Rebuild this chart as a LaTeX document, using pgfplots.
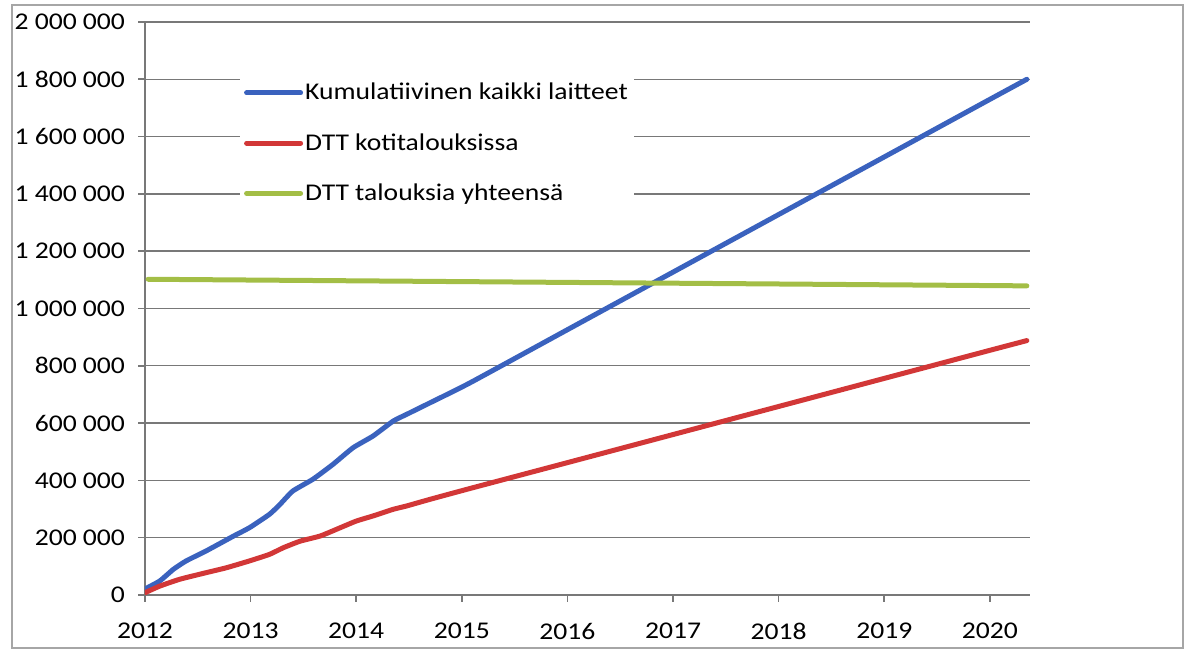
\documentclass[border=0pt]{standalone}
\usepackage{pgfplots}
\pgfplotsset{compat=1.18}
\usepackage{fontspec}
\setmainfont{Carlito}[FakeStretch=1.15]
\definecolor{cblue}{RGB}{58,98,190}
\definecolor{cred}{RGB}{210,55,55}
\definecolor{cgreen}{RGB}{163,190,70}
\definecolor{cgrid}{RGB}{120,120,120}
\begin{document}
\begin{tikzpicture}
\path[use as bounding box] (0,0) rectangle (595.5pt,326pt);
\draw[gray!70, line width=0.8pt] (6pt,2pt) rectangle (591.5pt,323.5pt);
\begin{axis}[
  at={(72.5pt,28.5pt)}, anchor=south west,
  scale only axis, width=442.5pt, height=286.5pt,
  xmin=2012, xmax=2020.38, ymin=0, ymax=2000000,
  axis x line*=bottom, axis y line*=left,
  axis line style={cgrid, line width=0.8pt, -},
  scaled y ticks=false, scaled x ticks=false,
  xtick={2012,2013,2014,2015,2016,2017,2018,2019,2020},
  xticklabels={2012,2013,2014,2015,2016,2017,2018,2019,2020},
  ytick={0,200000,400000,600000,800000,1000000,1200000,1400000,1600000,1800000,2000000},
  yticklabels={0,200 000,400 000,600 000,800 000,1 000 000,1 200 000,1 400 000,1 600 000,1 800 000,2 000 000},
  tick align=outside, major tick length=3.5pt,
  tick style={cgrid, line width=0.8pt},
  ymajorgrids, major grid style={cgrid, line width=0.7pt},
  /pgf/number format/assume math mode=true,
  ticklabel style={font=\fontsize{12}{14.4}\selectfont, text=black},
  yticklabel style={xshift=-3pt},
  xticklabel style={yshift=-7pt},
  legend style={at={(rel axis cs:0.107,0.922)}, anchor=north west,
    fill=white, draw=none, font=\fontsize{12}{14.4}\selectfont,
    row sep=11.3pt, inner xsep=2pt, inner ysep=6pt,
    nodes={inner xsep=1pt}},
  legend cell align=left,
  legend image code/.code={\draw[#1] (0pt,0pt) -- (27pt,0pt);},
  every axis plot/.append style={line width=2.5pt, line join=round, line cap=round},
]
\addplot[cblue, smooth, tension=0.3] coordinates {
(2012.00,21000) (2012.14,49000) (2012.27,90000) (2012.39,119000) (2012.58,154000)
(2012.84,206000) (2012.99,235000) (2013.18,282000) (2013.28,317000) (2013.40,363000)
(2013.59,404000) (2013.78,456000) (2013.97,514000) (2014.16,555000) (2014.35,607000)
(2014.48,631000) (2014.70,671000) (2015.08,741000) (2016.00,926000) (2017.00,1127000)
(2018.00,1328000) (2019.00,1529000) (2020.00,1730000) (2020.35,1800000)};
\addlegendentry{Kumulatiivinen kaikki laitteet}
\addplot[cred, smooth, tension=0.3] coordinates {
(2012.00,8000) (2012.14,31000) (2012.33,55000) (2012.58,78000) (2012.77,95000)
(2012.99,119000) (2013.18,142000) (2013.31,165000) (2013.47,188000) (2013.66,206000)
(2013.85,235000) (2014.00,258000) (2014.16,276000) (2014.35,299000) (2014.48,311000)
(2014.70,334000) (2015.08,372000) (2016.00,462000) (2017.00,560000) (2018.00,658000)
(2019.00,756000) (2020.00,854000) (2020.35,888000)};
\addlegendentry{DTT kotitalouksissa}
\addplot[cgreen] coordinates {(2012.03,1102000) (2020.35,1079000)};
\addlegendentry{DTT talouksia yhteensä}
\end{axis}
\end{tikzpicture}
\end{document}
